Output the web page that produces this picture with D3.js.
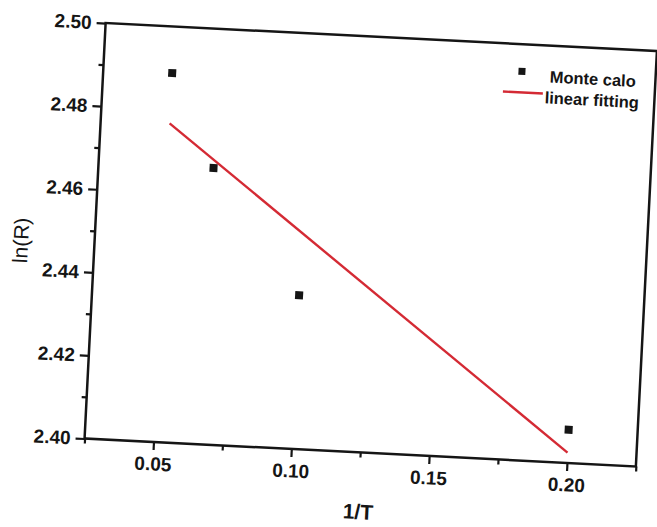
<!DOCTYPE html>
<html>
<head>
<meta charset="utf-8">
<script src="https://cdn.jsdelivr.net/npm/d3@7"></script>
<style>
  html, body { margin: 0; padding: 0; background: #ffffff; }
  svg { display: block; }
  text { font-family: "Liberation Sans", Arial, sans-serif; fill: #151515; }
</style>
</head>
<body>
<svg id="chart" width="657" height="527"></svg>
<script>
// ---- data ----
const mcX = [0.05, 0.0667, 0.10, 0.20];          // 1/T
const mcY = [2.4888, 2.4665, 2.4370, 2.4080];    // ln(R), Monte calo
const fitX = [0.05, 0.20];                        // linear fitting end points
const fitY = [2.4767, 2.4025];
const xTicks = [0.05, 0.10, 0.15, 0.20];
const xMinor = [0.025, 0.075, 0.125, 0.175, 0.225];
const yTicks = [2.40, 2.42, 2.44, 2.46, 2.48, 2.50];
const yMinor = [2.41, 2.43, 2.45, 2.47, 2.49];
const seriesNames = ["Monte calo", "linear fitting"];

// ---- layout ----
const L = 94.75, R = 646.75, T = 36.75, B = 452.75;
const cx = (L + R) / 2, cy = (T + B) / 2;
const tilt = 2.9;

const svg = d3.select("#chart");
const g = svg.append("g").attr("transform", `rotate(${tilt},${cx},${cy})`);

const x = d3.scaleLinear().domain([0.025, 0.225]).range([L, R]);
const y = d3.scaleLinear().domain([2.40, 2.50]).range([B, T]);

// frame
g.append("rect")
  .attr("x", L).attr("y", T).attr("width", R - L).attr("height", B - T)
  .attr("fill", "none").attr("stroke", "#151515").attr("stroke-width", 2.5);

// bottom axis
const xAx = g.append("g").attr("transform", `translate(0,${B})`)
  .call(d3.axisBottom(x).tickValues(xTicks).tickFormat(d3.format(".2f")).tickSize(8).tickPadding(7));
const xMin = g.append("g").attr("transform", `translate(0,${B})`)
  .call(d3.axisBottom(x).tickValues(xMinor).tickFormat("").tickSize(5));

// left axis
const yAx = g.append("g").attr("transform", `translate(${L},0)`)
  .call(d3.axisLeft(y).tickValues(yTicks).tickFormat(d3.format(".2f")).tickSize(9).tickPadding(5));
const yMin = g.append("g").attr("transform", `translate(${L},0)`)
  .call(d3.axisLeft(y).tickValues(yMinor).tickFormat("").tickSize(5));

[xAx, xMin, yAx, yMin].forEach(a => {
  a.select(".domain").remove();
  a.selectAll(".tick line").attr("stroke", "#151515").attr("stroke-width", 2.2);
  a.selectAll(".tick text")
    .style("font-family", '"Liberation Sans", Arial, sans-serif')
    .style("font-weight", "bold").style("font-size", "19px").attr("fill", "#151515");
});

// fitted line
g.append("path")
  .datum(fitX.map((d, i) => [d, fitY[i]]))
  .attr("d", d3.line().x(d => x(d[0])).y(d => y(d[1])))
  .attr("fill", "none").attr("stroke", "#d42a34").attr("stroke-width", 2.4);

// points
const ms = 8;
g.selectAll("rect.pt").data(mcX.map((d, i) => [d, mcY[i]])).enter()
  .append("rect").attr("class", "pt")
  .attr("x", d => x(d[0]) - ms / 2).attr("y", d => y(d[1]) - ms / 2)
  .attr("width", ms).attr("height", ms).attr("fill", "#151515");

// legend
g.append("rect").attr("x", 513 - 3.5).attr("y", 64 - 3.5).attr("width", 7).attr("height", 7).attr("fill", "#151515");
g.append("text").attr("x", 541).attr("y", 68).attr("dy", "0.35em")
  .style("font-weight", "bold").style("font-size", "16.5px").text(seriesNames[0]);
g.append("line").attr("x1", 495).attr("x2", 535).attr("y1", 85).attr("y2", 85)
  .attr("stroke", "#d42a34").attr("stroke-width", 2.4);
g.append("text").attr("x", 537).attr("y", 89).attr("dy", "0.35em")
  .style("font-weight", "bold").style("font-size", "16.5px").text(seriesNames[1]);

// axis titles
g.append("text").attr("transform", `translate(21,258) rotate(-90)`)
  .attr("text-anchor", "middle").attr("dy", "0.35em")
  .style("font-size", "21px").text("ln(R)");
g.append("text").attr("x", 371.5).attr("y", 512).attr("text-anchor", "middle").attr("dy", "0.35em")
  .style("font-weight", "bold").style("font-size", "21px").text("1/T");
</script>
</body>
</html>
